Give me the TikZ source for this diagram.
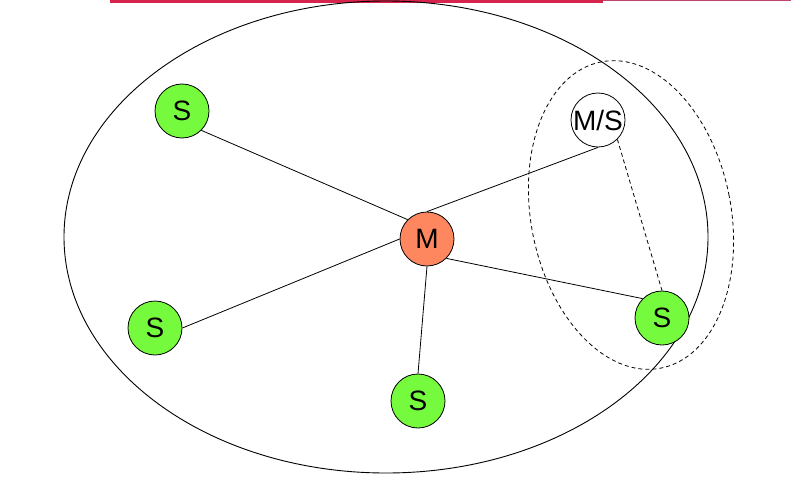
\documentclass[tikz,border=0pt]{standalone}
\usepackage{fontspec}
\setmainfont{Liberation Sans}
\usetikzlibrary{shapes.geometric}
\definecolor{sgreen}{RGB}{118,250,62}
\definecolor{morange}{RGB}{255,135,95}
\definecolor{topred}{RGB}{214,36,76}
\definecolor{topthin}{RGB}{190,70,110}
\begin{document}
\begin{tikzpicture}[x=1pt,y=-1pt,
  dev/.style={circle,draw=black,line width=0.8pt,minimum size=54pt,inner sep=0pt,font=\fontsize{28}{30}\selectfont},
  slave/.style={dev,fill=sgreen},
  master/.style={dev,fill=morange},
  link/.style={line width=0.8pt},
  dlink/.style={line width=0.8pt,dashed,dash pattern=on 4pt off 3pt}]
\useasboundingbox (0,0) rectangle (791,484);
\fill[white] (0,0) rectangle (791,484);
% top rule
\fill[topred] (110,0) rectangle (603,3);
\draw[topthin,line width=1pt] (603,1) -- (791,1);
% big ellipse
\node[ellipse,draw,line width=0.9pt,minimum width=644pt,minimum height=472pt,inner sep=0pt] (net) at (386,237) {};
% dashed ellipse
\node[ellipse,draw,dlink,minimum width=200pt,minimum height=312pt,inner sep=0pt,rotate=11] (grp) at (631,215) {};
% nodes
\node[master] (m) at (427,239) {M};
\node[slave] (s1) at (182,111) {S};
\node[slave] (s2) at (155,328) {S};
\node[slave] (s3) at (418,401) {S};
\node[slave] (s4) at (662,318) {S};
\node[dev,fill=white] (ms) at (598,120) {M/S};
% links
\draw[link] (s1.south east) -- (m.north west);
\draw[link] (s2.east) -- (m.west);
\draw[link] (s3.north) -- (m.south);
\draw[link] (s4.north west) -- (m.south east);
\draw[link] (ms.south) -- (m.north);
\draw[dlink] (ms.south east) -- (s4.north);
\end{tikzpicture}
\end{document}
